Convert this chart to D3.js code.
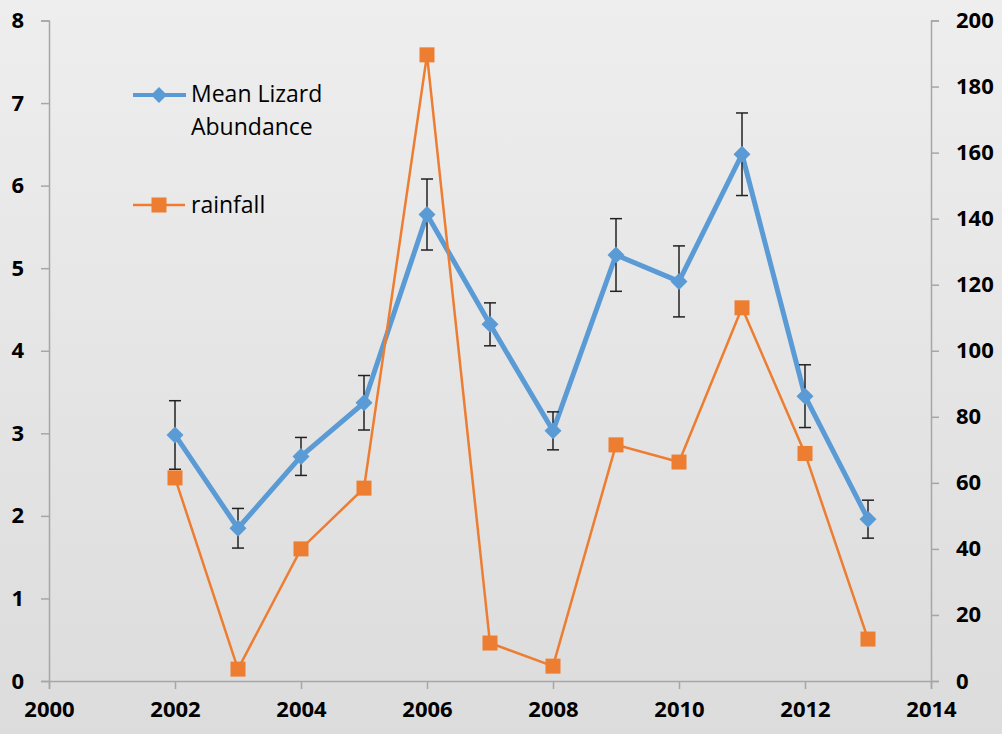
<!DOCTYPE html>
<html><head><meta charset="utf-8">
<script src="https://cdn.jsdelivr.net/npm/d3@7"></script>
<style>body{margin:0;}svg{display:block;}</style>
</head><body>
<svg id="c" width="1002" height="734"></svg>
<script>
const years = [2002,2003,2004,2005,2006,2007,2008,2009,2010,2011,2012,2013];
const lizard = [2.98,1.85,2.72,3.37,5.65,4.32,3.03,5.16,4.84,6.38,3.45,1.96];
const lizardErr = [0.415,0.24,0.23,0.33,0.43,0.26,0.23,0.44,0.43,0.50,0.38,0.23];
const rainfall = [61.5,3.6,40,58.4,189.6,11.5,4.5,71.5,66.3,113,68.9,12.7];
const xTicks = [2000,2002,2004,2006,2008,2010,2012,2014];
const yLeftTicks = [0,1,2,3,4,5,6,7,8];
const yRightTicks = [0,20,40,60,80,100,120,140,160,180,200];
const seriesNames = ["Mean Lizard|Abundance","rainfall"];

const svg = d3.select("#c");
const W=1002,H=734;
const defs = svg.append("defs");
const g = defs.append("linearGradient").attr("id","bg").attr("x1",0).attr("y1",0).attr("x2",0).attr("y2",1);
g.append("stop").attr("offset","0%").attr("stop-color","#eeeeee");
g.append("stop").attr("offset","100%").attr("stop-color","#dcdcdc");
svg.append("rect").attr("width",W).attr("height",H).attr("fill","url(#bg)");

const x = d3.scaleLinear().domain([2000,2014]).range([49,931]);
const yL = d3.scaleLinear().domain([0,8]).range([681,20.5]);
const yR = d3.scaleLinear().domain([0,200]).range([681,20.5]);

const axisColor="#a6a6a6";
const font="'Open Sans', sans-serif";

function styleAxis(sel){
  sel.select(".domain").attr("stroke",axisColor).attr("stroke-width",1.5);
  sel.selectAll(".tick line").attr("stroke",axisColor).attr("stroke-width",1.5);
  sel.selectAll(".tick text").attr("fill","#000").attr("font-family",font).attr("font-weight","bold").attr("font-size",22);
}
const ax = svg.append("g").attr("transform","translate(0,681)")
  .call(d3.axisBottom(x).tickValues(xTicks).tickFormat(d3.format("d")).tickSizeOuter(0).tickSize(8).tickPadding(12));
styleAxis(ax);
ax.selectAll(".tick text").attr("dy","0.71em");
const al = svg.append("g").attr("transform","translate(49,0)")
  .call(d3.axisLeft(yL).tickValues(yLeftTicks).tickSizeOuter(0).tickSize(8).tickPadding(17));
styleAxis(al);
const ar = svg.append("g").attr("transform","translate(931,0)")
  .call(d3.axisRight(yR).tickValues(yRightTicks).tickSizeOuter(0).tickSize(8).tickPadding(17));
styleAxis(ar);

const blue="#5B9BD5", orange="#ED7D31";
const lineL = d3.line().x((d,i)=>x(years[i])).y(d=>yL(d));
const lineR = d3.line().x((d,i)=>x(years[i])).y(d=>yR(d));

svg.append("path").datum(lizard).attr("d",lineL).attr("fill","none").attr("stroke",blue).attr("stroke-width",5).attr("stroke-linejoin","round");

const eb = svg.append("g").attr("stroke","#222").attr("stroke-width",1.5);
lizard.forEach((v,i)=>{
  const cx=x(years[i]), t=yL(v+lizardErr[i]), b=yL(v-lizardErr[i]);
  eb.append("line").attr("x1",cx).attr("x2",cx).attr("y1",t).attr("y2",b);
  eb.append("line").attr("x1",cx-6).attr("x2",cx+6).attr("y1",t).attr("y2",t);
  eb.append("line").attr("x1",cx-6).attr("x2",cx+6).attr("y1",b).attr("y2",b);
});

const diamond = d3.symbol().type(d3.symbolDiamond2 || d3.symbolSquare).size(150);
function diamondPath(s){ return `M0,${-s}L${s},0L0,${s}L${-s},0Z`; }
svg.append("g").selectAll("path").data(lizard).join("path")
  .attr("d",diamondPath(8.5)).attr("transform",(d,i)=>`translate(${x(years[i])},${yL(d)})`).attr("fill",blue);

svg.append("path").datum(rainfall).attr("d",lineR).attr("fill","none").attr("stroke",orange).attr("stroke-width",2.5);
svg.append("g").selectAll("rect").data(rainfall).join("rect")
  .attr("x",(d,i)=>x(years[i])-7.5).attr("y",d=>yR(d)-7.5).attr("width",15).attr("height",15).attr("fill",orange);

// legend
const lg = svg.append("g").attr("font-family",font).attr("font-size",23).attr("fill","#000");
lg.append("line").attr("x1",133).attr("x2",186).attr("y1",95).attr("y2",95).attr("stroke",blue).attr("stroke-width",4);
lg.append("path").attr("d",diamondPath(8)).attr("transform","translate(159,95)").attr("fill",blue);
const lines = seriesNames[0].split("|");
lg.append("text").attr("x",191).attr("y",102).text(lines[0]);
lg.append("text").attr("x",191).attr("y",135).text(lines[1]);
lg.append("line").attr("x1",133).attr("x2",185).attr("y1",205).attr("y2",205).attr("stroke",orange).attr("stroke-width",2.5);
lg.append("rect").attr("x",151.5).attr("y",197.5).attr("width",15).attr("height",15).attr("fill",orange);
lg.append("text").attr("x",191).attr("y",213).text(seriesNames[1]);
</script>
</body></html>
